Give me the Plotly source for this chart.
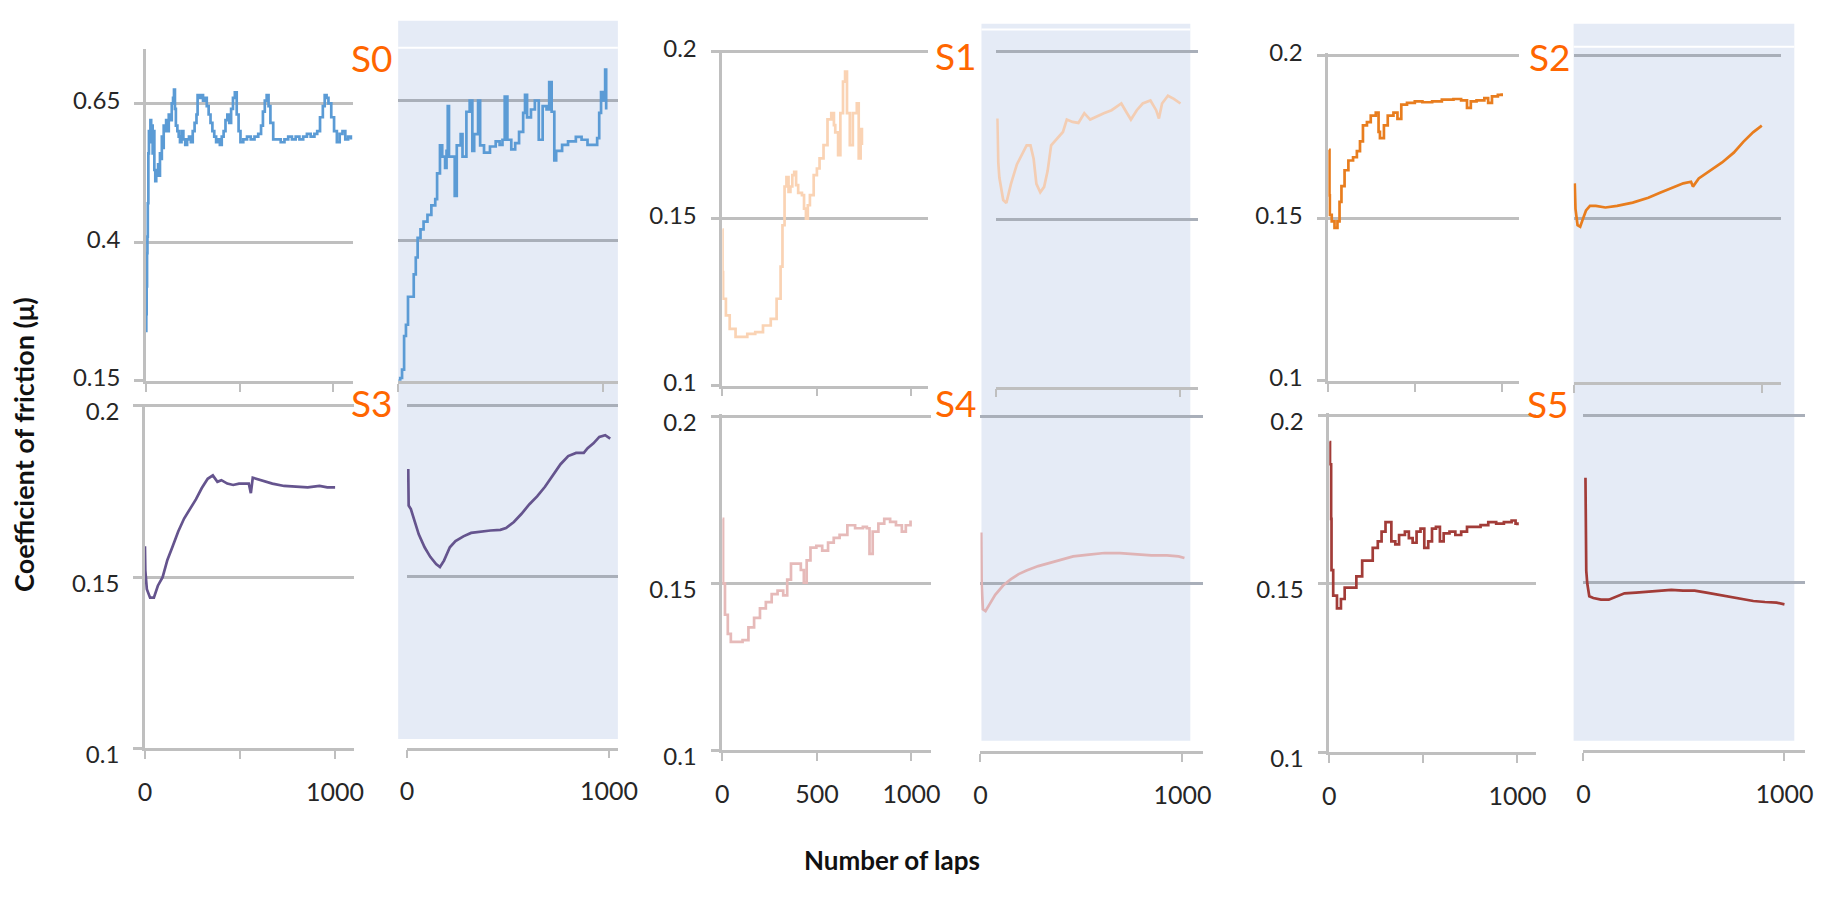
import plotly.graph_objects as go

W, H = 1835, 899
FONT = "Lato, Carlito, Calibri, sans-serif"

# ---------------- data (laps, coefficient of friction) ----------------
s0_left_laps = [0, 2, 4, 6, 8, 10, 13, 16, 20, 24, 28, 32, 36, 40, 45, 50, 55, 60, 65, 70, 75, 80, 85, 90, 95, 100,
                108, 115, 122, 130, 138, 145, 150, 155, 160, 168, 175, 182, 190, 200, 210, 220, 230, 240, 250, 260,
                270, 276, 285, 295, 305, 315, 325, 335, 345, 355, 365, 375, 385, 395, 405, 415, 425, 435, 445, 455,
                465, 475, 485, 495, 505, 520, 540, 560, 580, 600, 615, 625, 635, 645, 655, 665, 680, 700, 720, 740,
                760, 780, 800, 820, 840, 860, 880, 900, 915, 930, 945, 955, 965, 975, 990, 1005, 1020, 1035, 1050,
                1065, 1080, 1095]
s0_left_mu = [0.24, 0.27, 0.32, 0.38, 0.41, 0.47, 0.56, 0.60, 0.58, 0.62, 0.59, 0.61, 0.56, 0.60, 0.53, 0.51, 0.53,
              0.52, 0.54, 0.52, 0.56, 0.55, 0.59, 0.57, 0.61, 0.60, 0.62, 0.60, 0.63, 0.62, 0.65, 0.66, 0.675, 0.64,
              0.61, 0.60, 0.59, 0.58, 0.60, 0.585, 0.575, 0.585, 0.59, 0.58, 0.60, 0.615, 0.63, 0.665, 0.66, 0.665,
              0.655, 0.66, 0.645, 0.63, 0.615, 0.60, 0.59, 0.58, 0.585, 0.575, 0.59, 0.60, 0.62, 0.63, 0.615, 0.64,
              0.66, 0.67, 0.63, 0.60, 0.58, 0.585, 0.59, 0.585, 0.59, 0.595, 0.61, 0.635, 0.655, 0.665, 0.645, 0.615,
              0.585, 0.585, 0.58, 0.585, 0.59, 0.585, 0.59, 0.585, 0.59, 0.595, 0.59, 0.595, 0.60, 0.625, 0.645,
              0.665, 0.66, 0.65, 0.625, 0.60, 0.58, 0.595, 0.60, 0.585, 0.59, 0.585]

s0_right_laps = [0, 10, 19, 29, 38, 48, 67, 76, 86, 95, 109, 124, 143, 162, 181, 190, 204, 215, 229, 236, 242, 248,
                 267, 276, 286, 305, 314, 333, 349, 362, 371, 390, 400, 419, 448, 476, 495, 509, 520, 533, 552, 571,
                 590, 610, 619, 629, 648, 667, 686, 705, 724, 737, 749, 762, 771, 800, 829, 867, 895, 924, 952, 971,
                 981, 990, 1000, 1010, 1015]
s0_right_mu = [0.15, 0.155, 0.17, 0.23, 0.25, 0.30, 0.30, 0.34, 0.37, 0.405, 0.42, 0.434, 0.446, 0.463, 0.474, 0.52,
               0.57, 0.55, 0.53, 0.56, 0.64, 0.55, 0.55, 0.48, 0.57, 0.59, 0.55, 0.63, 0.65, 0.56, 0.59, 0.65, 0.57,
               0.557, 0.568, 0.577, 0.571, 0.58, 0.657, 0.58, 0.563, 0.574, 0.594, 0.628, 0.66, 0.62, 0.634, 0.65,
               0.58, 0.64, 0.634, 0.683, 0.63, 0.543, 0.56, 0.571, 0.577, 0.585, 0.58, 0.571, 0.571, 0.583, 0.628,
               0.665, 0.65, 0.705, 0.634]

s1_left_laps = [0, 1, 4, 19, 39, 70, 101, 132, 174, 215, 256, 287, 308, 318, 329, 339, 350, 360, 370, 380, 390, 401,
                421, 432, 442, 452, 463, 483, 500, 514, 535, 556, 576, 590, 597, 612, 624, 638, 649, 659, 674, 690,
                711, 721, 731, 738]
s1_left_mu = [0.1467, 0.134, 0.126, 0.121, 0.117, 0.1146, 0.1146, 0.1155, 0.116, 0.118, 0.120, 0.126, 0.1356, 0.148,
              0.1596, 0.1624, 0.158, 0.1596, 0.163, 0.164, 0.160, 0.1577, 0.157, 0.153, 0.150, 0.154, 0.157, 0.163,
              0.165, 0.168, 0.172, 0.1797, 0.1816, 0.178, 0.1758, 0.169, 0.1816, 0.191, 0.194, 0.1816, 0.172,
              0.1816, 0.1845, 0.168, 0.1768, 0.172]

s1_right_laps = [6, 11, 17, 38, 55, 80, 112, 144, 165, 186, 203, 218, 239, 260, 279, 298, 330, 362, 383, 414, 446,
                 478, 510, 541, 584, 626, 679, 710, 731, 763, 795, 837, 868, 883, 900, 932, 964, 1000]
s1_right_mu = [0.180, 0.167, 0.1624, 0.1557, 0.1548, 0.1605, 0.1663, 0.170, 0.172, 0.172, 0.168, 0.1605, 0.158,
               0.1596, 0.1644, 0.172, 0.174, 0.176, 0.1797, 0.179, 0.1787, 0.1816, 0.1797, 0.1806, 0.1816, 0.1825,
               0.1845, 0.1816, 0.1797, 0.1825, 0.1845, 0.1854, 0.1825, 0.180, 0.1845, 0.1868, 0.1859, 0.1845]

s2_left_laps = [4, 7, 9, 20, 36, 53, 65, 76, 94, 116, 143, 165, 183, 200, 223, 245, 274, 290, 298, 321, 343, 376,
                399, 421, 454, 499, 543, 599, 655, 722, 766, 800, 822, 855, 900, 922, 944, 978, 1000]
s2_left_mu = [0.171, 0.157, 0.151, 0.149, 0.147, 0.149, 0.155, 0.1598, 0.1647, 0.1677, 0.1687, 0.1706, 0.1736,
              0.1785, 0.1795, 0.1815, 0.1824, 0.1765, 0.1746, 0.1785, 0.1815, 0.1824, 0.1805, 0.1849, 0.1854,
              0.1859, 0.1856, 0.1859, 0.1864, 0.1866, 0.1862, 0.1839, 0.1859, 0.1862, 0.1869, 0.1854, 0.1874,
              0.1879, 0.1884]

s2_right_laps = [6, 10, 21, 35, 50, 66, 87, 118, 169, 231, 314, 397, 459, 521, 583, 624, 634, 665, 727, 789, 851,
                 903, 955, 1000]
s2_right_mu = [0.1608, 0.153, 0.148, 0.1475, 0.150, 0.1525, 0.1539, 0.1539, 0.1534, 0.1539, 0.1549, 0.1564, 0.1579,
               0.1593, 0.1608, 0.1613, 0.1598, 0.1623, 0.1647, 0.1672, 0.1702, 0.1736, 0.1765, 0.1785]

s3_left_laps = [0, 2, 10, 27, 47, 68, 93, 118, 144, 175, 206, 237, 268, 299, 330, 357, 381, 402, 433, 464, 495, 546,
                557, 567, 608, 670, 732, 794, 856, 918, 959, 1000]
s3_left_mu = [0.159, 0.152, 0.1465, 0.144, 0.144, 0.1475, 0.150, 0.155, 0.1587, 0.1633, 0.1671, 0.1699, 0.1727, 0.176,
              0.1787, 0.1797, 0.1778, 0.1783, 0.1773, 0.1769, 0.1773, 0.1773, 0.1745, 0.179, 0.1783, 0.1773, 0.1766,
              0.1764, 0.1762, 0.1766, 0.1762, 0.1762]

s3_right_laps = [6, 8, 19, 38, 58, 87, 115, 144, 163, 183, 212, 240, 279, 317, 365, 413, 462, 490, 529, 567, 606, 644,
                 683, 721, 760, 798, 837, 875, 894, 923, 952, 981, 1006]
s3_right_mu = [0.1815, 0.1708, 0.1698, 0.166, 0.1624, 0.1586, 0.1558, 0.1537, 0.1528, 0.1547, 0.1586, 0.1604, 0.1618,
               0.1628, 0.1632, 0.1635, 0.1637, 0.1642, 0.166, 0.1684, 0.1712, 0.1735, 0.1763, 0.1796, 0.1829, 0.1853,
               0.1862, 0.1862, 0.1876, 0.189, 0.1909, 0.1914, 0.1904]

s4_left_laps = [0, 4, 14, 29, 45, 76, 107, 138, 168, 199, 230, 261, 292, 322, 343, 363, 394, 415, 431, 446, 466, 497,
                528, 559, 589, 620, 661, 702, 743, 764, 778, 795, 825, 856, 887, 918, 949, 970, 995]
s4_left_mu = [0.1693, 0.150, 0.1406, 0.1349, 0.1325, 0.1325, 0.133, 0.1368, 0.1397, 0.1425, 0.1444, 0.1468, 0.1478,
              0.1464, 0.1511, 0.1559, 0.1559, 0.154, 0.1502, 0.1569, 0.1607, 0.1612, 0.1598, 0.1622, 0.1636, 0.1645,
              0.1674, 0.1665, 0.1669, 0.1665, 0.1588, 0.1655, 0.1679, 0.1693, 0.1684, 0.1674, 0.1655, 0.1674, 0.1688]

s4_right_laps = [4, 6, 12, 25, 44, 73, 112, 151, 189, 228, 286, 344, 402, 459, 537, 614, 691, 768, 846, 923, 981, 1010]
s4_right_mu = [0.1653, 0.150, 0.1424, 0.1419, 0.1438, 0.1467, 0.1495, 0.1514, 0.1529, 0.154, 0.1553, 0.1563, 0.1572,
               0.1582, 0.1587, 0.1592, 0.1592, 0.1589, 0.1585, 0.1585, 0.1582, 0.1577]

s5_left_laps = [0, 4, 10, 12, 21, 41, 62, 82, 113, 144, 175, 206, 231, 258, 278, 299, 313, 330, 351, 371, 402, 423,
                443, 464, 485, 505, 526, 546, 567, 588, 608, 639, 670, 701, 732, 763, 804, 845, 887, 928, 969, 990, 1000]
s5_left_mu = [0.1921, 0.1855, 0.1693, 0.1541, 0.1465, 0.1427, 0.1455, 0.1489, 0.1489, 0.1522, 0.1569, 0.1569, 0.1607,
              0.1626, 0.1655, 0.1683, 0.1683, 0.1626, 0.1617, 0.1645, 0.1655, 0.1636, 0.1622, 0.1655, 0.1664, 0.1607,
              0.1626, 0.1664, 0.1669, 0.1626, 0.165, 0.1655, 0.1645, 0.1655, 0.1669, 0.1669, 0.1674, 0.1683, 0.1679,
              0.1683, 0.1688, 0.1679, 0.1674]

s5_right_laps = [10, 12, 14, 19, 29, 49, 87, 126, 165, 204, 262, 320, 379, 437, 495, 553, 612, 670, 728, 786, 845,
                 903, 961, 1000]
s5_right_mu = [0.1814, 0.167, 0.1536, 0.1498, 0.146, 0.1455, 0.145, 0.145, 0.146, 0.1469, 0.1471, 0.1474, 0.1477,
               0.1479, 0.1477, 0.1477, 0.1471, 0.1465, 0.1458, 0.1452, 0.1446, 0.1443, 0.1441, 0.1436]

sample_labels = ["S0", "S1", "S2", "S3", "S4", "S5"]
ticks_top_left = [0.15, 0.4, 0.65]
ticks_std = [0.1, 0.15, 0.2]

# ---------------- panel geometry (pixels) ----------------
GRID = "#BFBFBF"
GRID_SH = "#A9AFB9"
SHADE = "#E5EBF6"

panels = [
    dict(x=s0_left_laps, y=s0_left_mu, c="#5B9BD5", sh=False, xp=(141, 331, 141, 351), yp=(0.15, 379, 0.65, 90, 33), yt=ticks_top_left, bot=False, ls="hv"),
    dict(x=s0_right_laps, y=s0_right_mu, c="#5B9BD5", sh=True, xp=(397, 605, 397, 620), yp=(0.15, 379, 0.65, 87, 30), yt=ticks_top_left, bot=False, ls="hv"),
    dict(x=s1_left_laps, y=s1_left_mu, c="#FAD3B4", sh=False, xp=(726, 918, 726, 935), yp=(0.1, 384, 0.2, 36, 34), yt=ticks_std, bot=False, ls="hv"),
    dict(x=s1_right_laps, y=s1_right_mu, c="#F3CDB3", sh=True, xp=(1004, 1191, 1004, 1209), yp=(0.1, 385, 0.2, 36, 34), yt=ticks_std, bot=False, ls="linear"),
    dict(x=s2_left_laps, y=s2_left_mu, c="#E87D1E", sh=False, xp=(1341, 1517, 1341, 1535), yp=(0.1, 379, 0.2, 40, 38), yt=ticks_std, bot=False, ls="hv"),
    dict(x=s2_right_laps, y=s2_right_mu, c="#E87D1E", sh=True, xp=(1590, 1781, 1590, 1800), yp=(0.1, 380, 0.2, 40, 38), yt=ticks_std, bot=False, ls="linear"),
    dict(x=s3_left_laps, y=s3_left_mu, c="#65548E", sh=False, xp=(140, 333, 140, 352), yp=(0.1, 762, 0.2, 405, 403), yt=ticks_std, bot=True, ls="linear"),
    dict(x=s3_right_laps, y=s3_right_mu, c="#65548E", sh=True, xp=(406, 611, 406, 620), yp=(0.1, 761, 0.2, 405, 403), yt=ticks_std, bot=True, ls="linear"),
    dict(x=s4_left_laps, y=s4_left_mu, c="#E6BAB9", sh=False, xp=(726, 918, 726, 938), yp=(0.1, 764, 0.2, 416, 414), yt=ticks_std, bot=True, ls="hv", mid=True),
    dict(x=s4_right_laps, y=s4_right_mu, c="#DFB3B5", sh=True, xp=(988, 1193, 988, 1214), yp=(0.1, 765, 0.2, 416, 414), yt=ticks_std, bot=True, ls="linear"),
    dict(x=s5_left_laps, y=s5_left_mu, c="#A23C38", sh=False, xp=(1342, 1533, 1342, 1552), yp=(0.1, 766, 0.2, 415, 413), yt=ticks_std, bot=True, ls="hv"),
    dict(x=s5_right_laps, y=s5_right_mu, c="#A23C38", sh=True, xp=(1600, 1804, 1600, 1825), yp=(0.1, 764, 0.2, 415, 413), yt=ticks_std, bot=True, ls="linear"),
]

fig = go.Figure()
layout = {}
for i, p in enumerate(panels, start=1):
    x0, x1000, left, right = p["xp"]
    vlo, plo, vhi, phi, top = p["yp"]
    ppl = (x1000 - x0) / 1000.0
    ppv = (plo - phi) / (vhi - vlo)
    xr = [(left - x0) / ppl, (right - x0) / ppl]
    yr = [vlo, vlo + (plo - top) / ppv]
    sfx = "" if i == 1 else str(i)
    fig.add_trace(go.Scatter(x=p["x"], y=p["y"], mode="lines",
                             line=dict(color=p["c"], width=2.7, shape=p["ls"]),
                             xaxis="x" + sfx, yaxis="y" + sfx, showlegend=False, hoverinfo="skip"))
    if p["sh"]:
        xtv = [0, 1000]
        xtt = ["0", "1000"]
    else:
        xtv = [0, 500, 1000]
        xtt = ["0", "500" if p.get("mid") else "", "1000"]
    layout["xaxis" + sfx] = dict(
        domain=[left / W, right / W], anchor="y" + sfx, range=xr,
        showgrid=False, zeroline=False, showline=True, linecolor=GRID, linewidth=2.5,
        ticks="outside", ticklen=8, tickwidth=2, tickcolor=GRID,
        tickmode="array", tickvals=xtv, ticktext=xtt,
        showticklabels=p["bot"], ticklabelstandoff=12,
        tickfont=dict(family=FONT, size=25, color="#262626"), fixedrange=True)
    layout["yaxis" + sfx] = dict(
        domain=[1 - plo / H, 1 - top / H], anchor="x" + sfx, range=yr,
        showgrid=True, gridcolor=GRID_SH if p["sh"] else GRID, gridwidth=2.5, zeroline=False,
        showline=not p["sh"], linecolor=GRID, linewidth=2.5,
        ticks="" if p["sh"] else "outside", ticklen=9, tickwidth=2.5, tickcolor=GRID,
        tickmode="array", tickvals=p["yt"], ticktext=[f"{v:g}" for v in p["yt"]],
        showticklabels=not p["sh"], ticklabelstandoff=9,
        ticklabelshift=-3 if not p["bot"] else 6,
        tickfont=dict(family=FONT, size=24, color="#262626"), fixedrange=True)

shapes = []
for (l, r, t, b, wl) in [(397, 620, 4, 752, 32), (989, 1201, 7, 754, 13), (1590, 1814, 7, 754, 31)]:
    shapes.append(dict(type="rect", xref="paper", yref="paper", x0=l / W, x1=r / W, y0=1 - b / H, y1=1 - t / H,
                       fillcolor=SHADE, line=dict(width=0), layer="below"))
    shapes.append(dict(type="line", xref="paper", yref="paper", x0=l / W, x1=r / W, y0=1 - wl / H, y1=1 - wl / H,
                       line=dict(color="white", width=2), layer="below"))

annotations = []
label_pos = [(370, 42), (963, 40), (1566, 41), (370, 402), (963, 402), (1564, 403)]
for lab, (px, py) in zip(sample_labels, label_pos):
    annotations.append(dict(text=lab, x=px / W, y=1 - py / H, xref="paper", yref="paper", showarrow=False,
                            xanchor="center", yanchor="middle",
                            font=dict(family=FONT, size=37, color="#FF6600")))
annotations.append(dict(text="<b>Coefficient of friction (μ)</b>", x=16 / W, y=1 - 445 / H, xref="paper", yref="paper",
                        showarrow=False, textangle=-90, xanchor="center", yanchor="middle",
                        font=dict(family=FONT, size=27, color="#111111")))
annotations.append(dict(text="<b>Number of laps</b>", x=898 / W, y=1 - 878 / H, xref="paper", yref="paper",
                        showarrow=False, xanchor="center", yanchor="middle",
                        font=dict(family=FONT, size=26, color="#111111")))

fig.update_layout(
    width=W, height=H, autosize=False,
    margin=dict(l=0, r=0, t=0, b=0, pad=0),
    paper_bgcolor="white", plot_bgcolor="rgba(0,0,0,0)",
    showlegend=False, shapes=shapes, annotations=annotations,
    font=dict(family=FONT),
    **layout,
)

fig.write_html("out.html", config={"displayModeBar": False})
